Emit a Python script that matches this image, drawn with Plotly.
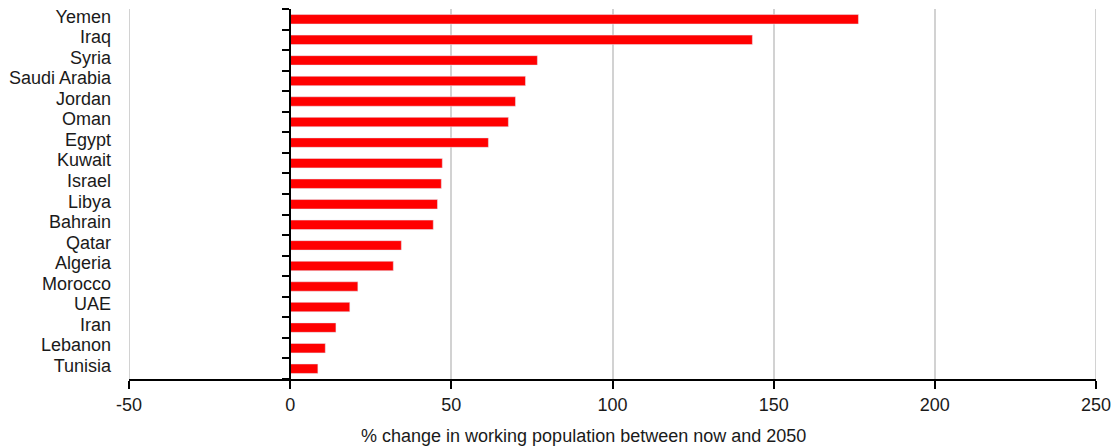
import plotly.graph_objects as go

# Projected change in working-age population, now to 2050 (%)
countries = ["Yemen", "Iraq", "Syria", "Saudi Arabia", "Jordan", "Oman", "Egypt",
             "Kuwait", "Israel", "Libya", "Bahrain", "Qatar", "Algeria", "Morocco",
             "UAE", "Iran", "Lebanon", "Tunisia"]
pct_change = [176.3, 143.4, 76.7, 73.0, 69.9, 67.7, 61.5,
              47.2, 46.9, 45.7, 44.4, 34.5, 32.0, 21.0,
              18.5, 14.2, 10.9, 8.6]

x_ticks = [-50, 0, 50, 100, 150, 200, 250]
x_title = "% change in working population between now and 2050"

FONT = "Liberation Sans, Arial, sans-serif"
TEXT = "#1a1a1a"
FS = 18
GRID = "#d2d2d2"

x_lo, x_hi = x_ticks[0], x_ticks[-1]

fig = go.Figure()

# visible bars, drawn against the category axis that carries the labels
fig.add_trace(go.Bar(
    x=pct_change, y=countries, orientation="h",
    marker=dict(color="#ff0000", line=dict(width=0)),
    width=0.46, showlegend=False, hoverinfo="x+y",
))
# same categories on the overlaid axis that sits at x = 0 (line + boundary ticks)
fig.add_trace(go.Bar(
    x=pct_change, y=countries, orientation="h", yaxis="y2",
    marker=dict(color="rgba(0,0,0,0)"), width=0.46,
    showlegend=False, hoverinfo="skip",
))

# grid lines at both ends of the value range
edge_grid = [
    dict(type="line", xref="x", yref="paper", x0=v, x1=v, y0=0, y1=1,
         line=dict(color=GRID, width=2), layer="below")
    for v in (x_lo, x_hi)
]

fig.update_layout(
    width=1113, height=448,
    margin=dict(l=129, r=17, t=9, b=69),
    paper_bgcolor="white", plot_bgcolor="white",
    font=dict(family=FONT, size=FS, color=TEXT),
    bargap=0.5,
    xaxis=dict(
        range=[x_lo, x_hi], tickvals=x_ticks, ticktext=[str(v) for v in x_ticks],
        showgrid=True, gridcolor=GRID, gridwidth=2,
        zeroline=False, automargin=False,
        showline=True, linecolor="black", linewidth=2,
        ticks="outside", ticklen=8, tickwidth=2, tickcolor="black",
        tickfont=dict(size=FS, color=TEXT),
        fixedrange=True,
    ),
    yaxis=dict(
        categoryorder="array", categoryarray=countries,
        tickmode="array", tickvals=countries, ticktext=countries,
        autorange="reversed", automargin=False,
        showgrid=False, zeroline=False, showline=False,
        ticks="", ticklabelstandoff=17, ticklabelshift=3,
        tickfont=dict(size=FS, color=TEXT),
    ),
    yaxis2=dict(
        overlaying="y", matches="y", anchor="free",
        position=(0 - x_lo) / (x_hi - x_lo),
        categoryorder="array", categoryarray=countries,
        tickmode="array", tickvals=countries,
        autorange="reversed", automargin=False,
        showgrid=False, zeroline=False,
        showline=True, linecolor="black", linewidth=2,
        ticks="outside", tickson="boundaries", ticklen=7, tickwidth=2,
        tickcolor="black", showticklabels=False,
    ),
    shapes=edge_grid,
    annotations=[dict(
        text=x_title, xref="paper", yref="paper",
        x=0.47, y=-0.154, xanchor="center", yanchor="middle",
        showarrow=False, font=dict(size=FS, color=TEXT),
    )],
)

fig.write_html("out.html")
